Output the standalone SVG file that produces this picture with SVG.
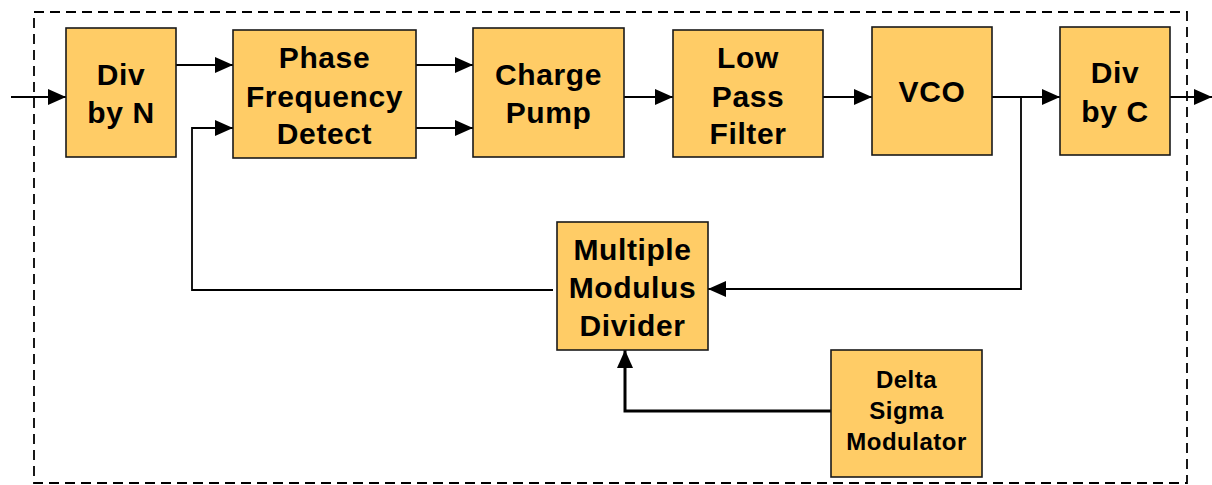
<svg xmlns="http://www.w3.org/2000/svg" width="1212" height="485" viewBox="0 0 1212 485">
  <style>
    .box { fill: #FFCC66; stroke: #1a1a1a; stroke-width: 1.6; }
    .lbl { font-family: "Liberation Sans", Arial, sans-serif; font-weight: bold; font-size: 30px; letter-spacing: 0.6px; fill: #000; text-anchor: middle; }
    .sm { font-size: 24px; letter-spacing: 0.5px; }
    .wire { fill: none; stroke: #000; stroke-width: 1.8; }
    .thick { stroke-width: 3; }
    .frame { fill: none; stroke: #000; stroke-width: 1.8; stroke-dasharray: 10 6; }
  </style>
  <defs>
    <marker id="arrow" markerUnits="userSpaceOnUse" markerWidth="18" markerHeight="16" viewBox="0 0 18 16" refX="18" refY="8" orient="auto">
      <path d="M0,0 L18,8 L0,16 Z" fill="#000"/>
    </marker>
  </defs>

  <!-- dashed enclosure of the synthesizer -->
  <rect class="frame" x="34" y="12" width="1153" height="471"/>

  <!-- connectors -->
  <g id="connectors">
    <path class="wire" d="M11,97 H66" marker-end="url(#arrow)"/>
    <path class="wire" d="M176,65 H233" marker-end="url(#arrow)"/>
    <path class="wire" d="M416,65 H473" marker-end="url(#arrow)"/>
    <path class="wire" d="M416,128 H473" marker-end="url(#arrow)"/>
    <path class="wire" d="M624,97 H673" marker-end="url(#arrow)"/>
    <path class="wire" d="M823,97 H872" marker-end="url(#arrow)"/>
    <path class="wire" d="M992,97 H1060" marker-end="url(#arrow)"/>
    <path class="wire" d="M1170,97 H1212" marker-end="url(#arrow)"/>
    <path class="wire" d="M1021,97 V289 H708" marker-end="url(#arrow)"/>
    <path class="wire" d="M553,290 H192 V128 H233" marker-end="url(#arrow)"/>
    <path class="wire thick" d="M831,411 H625 V350" marker-end="url(#arrow)"/>
  </g>

  <g id="div-by-n">
    <rect class="box" x="66" y="28" width="110" height="129"/>
    <text class="lbl" x="121" y="85">Div</text>
    <text class="lbl" x="121" y="123">by N</text>
  </g>

  <g id="pfd">
    <rect class="box" x="233" y="30" width="183" height="128"/>
    <text class="lbl" x="324.5" y="68">Phase</text>
    <text class="lbl" x="324.5" y="107">Frequency</text>
    <text class="lbl" x="324.5" y="144">Detect</text>
  </g>

  <g id="charge-pump">
    <rect class="box" x="473" y="28" width="151" height="129"/>
    <text class="lbl" x="548.5" y="85">Charge</text>
    <text class="lbl" x="548.5" y="123">Pump</text>
  </g>

  <g id="low-pass-filter">
    <rect class="box" x="673" y="30" width="150" height="127"/>
    <text class="lbl" x="748" y="68">Low</text>
    <text class="lbl" x="748" y="107">Pass</text>
    <text class="lbl" x="748" y="144">Filter</text>
  </g>

  <g id="vco">
    <rect class="box" x="872" y="27" width="120" height="128"/>
    <text class="lbl" x="932" y="102">VCO</text>
  </g>

  <g id="div-by-c">
    <rect class="box" x="1060" y="27" width="110" height="128"/>
    <text class="lbl" x="1115" y="83">Div</text>
    <text class="lbl" x="1115" y="122">by C</text>
  </g>

  <g id="multi-modulus-divider">
    <rect class="box" x="557" y="222" width="151" height="128"/>
    <text class="lbl" x="632.5" y="260">Multiple</text>
    <text class="lbl" x="632.5" y="298">Modulus</text>
    <text class="lbl" x="632.5" y="336">Divider</text>
  </g>

  <g id="delta-sigma-modulator">
    <rect class="box" x="831" y="350" width="151" height="127"/>
    <text class="lbl sm" x="906.5" y="388">Delta</text>
    <text class="lbl sm" x="906.5" y="419">Sigma</text>
    <text class="lbl sm" x="906.5" y="450">Modulator</text>
  </g>
</svg>
